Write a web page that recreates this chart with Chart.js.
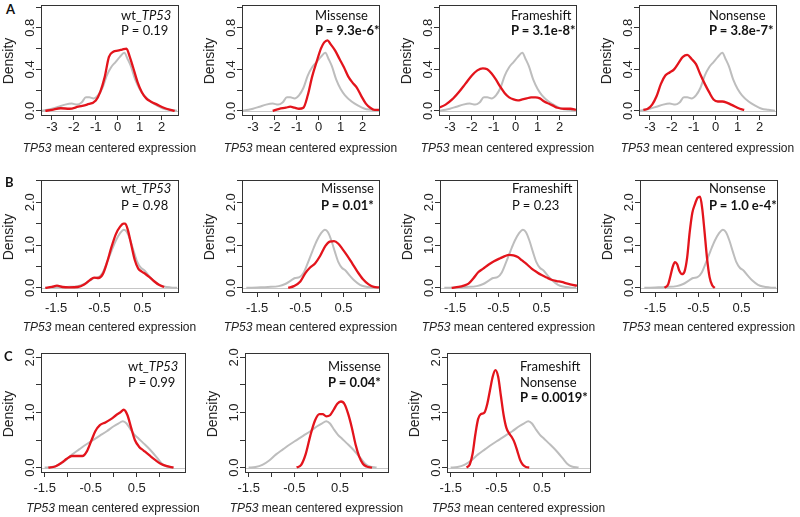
<!DOCTYPE html>
<html><head><meta charset="utf-8">
<script src="https://cdn.jsdelivr.net/npm/chart.js@4.4.1/dist/chart.umd.min.js"></script>
<style>
body{margin:0;background:#fff;}
#wrap{position:relative;width:800px;height:517px;overflow:hidden;background:#fff;}
canvas{position:absolute;}
.ann{position:absolute;font-family:Lato,"Open Sans",sans-serif;font-size:13px;color:#111;white-space:nowrap;}
.let{position:absolute;font-family:Lato,sans-serif;font-weight:bold;font-size:13px;color:#111;}
.ytitle{position:absolute;width:80px;height:16px;line-height:16px;text-align:center;font-family:"Liberation Sans",Arial,sans-serif;font-size:14px;color:#222;transform:rotate(-90deg);}
.xtitle{position:absolute;width:220px;height:16px;line-height:16px;text-align:center;font-family:"Liberation Sans",Arial,sans-serif;font-size:12px;color:#222;white-space:nowrap;}
</style></head>
<body><div id="wrap"></div>
<script>
// ---------- DATA ----------
// Row A: all samples (grey) and groups (red)
const xA_gray = [-3.5,-3.2,-3.0,-2.7,-2.4,-2.1,-1.85,-1.65,-1.45,-1.3,-1.1,-0.9,-0.7,-0.5,-0.3,-0.1,0.1,0.3,0.45,0.6,0.8,1.0,1.2,1.5,1.8,2.1,2.4,2.7];
const yA_gray = [0.0,0.01,0.02,0.04,0.06,0.07,0.06,0.08,0.13,0.13,0.12,0.15,0.22,0.34,0.42,0.47,0.52,0.56,0.5,0.43,0.3,0.21,0.15,0.09,0.05,0.02,0.01,0.0];
const xA_wt = [-3.3,-3.0,-2.6,-2.2,-1.8,-1.4,-1.0,-0.8,-0.6,-0.4,-0.2,0.0,0.2,0.4,0.55,0.7,0.9,1.1,1.3,1.5,1.8,2.1,2.4,2.6];
const yA_wt = [0.0,0.01,0.025,0.02,0.04,0.06,0.1,0.18,0.32,0.52,0.57,0.58,0.59,0.6,0.52,0.42,0.28,0.18,0.12,0.09,0.06,0.03,0.01,0.0];
const xA_mis = [-2.1,-1.8,-1.5,-1.3,-1.1,-0.9,-0.7,-0.5,-0.3,-0.1,0.1,0.25,0.4,0.55,0.75,0.95,1.15,1.35,1.55,1.75,1.95,2.15,2.35,2.55,2.75];
const yA_mis = [0.0,0.02,0.03,0.04,0.03,0.02,0.03,0.15,0.33,0.47,0.6,0.66,0.68,0.64,0.58,0.5,0.42,0.33,0.27,0.22,0.14,0.07,0.03,0.01,0.01];
const xA_fs = [-3.5,-3.2,-2.9,-2.6,-2.3,-2.0,-1.75,-1.5,-1.3,-1.1,-0.9,-0.7,-0.5,-0.3,-0.1,0.1,0.3,0.5,0.7,0.9,1.1,1.3,1.5,1.7,1.9,2.2,2.5,2.75];
const yA_fs = [0.03,0.06,0.11,0.18,0.26,0.34,0.39,0.41,0.4,0.36,0.3,0.23,0.17,0.13,0.11,0.1,0.11,0.12,0.13,0.13,0.12,0.09,0.07,0.05,0.03,0.02,0.02,0.01];
const xA_non = [-3.3,-3.1,-2.9,-2.7,-2.5,-2.3,-2.1,-1.9,-1.7,-1.5,-1.3,-1.1,-0.9,-0.7,-0.5,-0.3,-0.1,0.1,0.3,0.5,0.7,0.9,1.1,1.3];
const yA_non = [0.01,0.02,0.06,0.14,0.26,0.34,0.37,0.4,0.46,0.52,0.54,0.5,0.45,0.35,0.26,0.18,0.11,0.09,0.09,0.08,0.06,0.04,0.02,0.01];

// Row B
const xB_gray = [-1.75,-1.5,-1.25,-1.0,-0.85,-0.72,-0.62,-0.52,-0.42,-0.32,-0.22,-0.12,-0.02,0.07,0.14,0.22,0.3,0.38,0.46,0.55,0.65,0.75,0.88,1.0,1.15,1.3];
const yB_gray = [0.0,0.01,0.02,0.04,0.09,0.17,0.23,0.25,0.36,0.6,0.86,1.1,1.28,1.36,1.3,1.1,0.84,0.6,0.47,0.4,0.28,0.17,0.07,0.03,0.01,0.0];
const xB_wt = [-1.75,-1.6,-1.48,-1.35,-1.2,-1.0,-0.85,-0.72,-0.62,-0.52,-0.42,-0.32,-0.22,-0.12,-0.02,0.06,0.1,0.16,0.24,0.32,0.4,0.48,0.56,0.66,0.76,0.88,1.0];
const yB_wt = [0.0,0.02,0.05,0.02,0.01,0.02,0.08,0.18,0.24,0.23,0.32,0.6,0.95,1.25,1.43,1.5,1.5,1.35,1.0,0.65,0.45,0.38,0.33,0.25,0.16,0.07,0.02];
const xB_mis = [-0.78,-0.65,-0.5,-0.38,-0.28,-0.16,-0.04,0.08,0.18,0.28,0.38,0.48,0.58,0.7,0.82,0.95,1.08,1.2,1.32];
const yB_mis = [0.0,0.04,0.15,0.35,0.47,0.57,0.75,0.98,1.08,1.09,1.03,0.9,0.76,0.57,0.38,0.2,0.08,0.02,0.01];
const xB_fs = [-1.58,-1.42,-1.3,-1.19,-1.08,-0.96,-0.85,-0.73,-0.6,-0.46,-0.35,-0.25,-0.15,-0.05,0.05,0.15,0.27,0.4,0.5,0.62,0.73,0.85,0.96,1.1,1.32];
const yB_fs = [0.0,0.02,0.05,0.1,0.22,0.37,0.45,0.54,0.62,0.69,0.74,0.77,0.76,0.72,0.64,0.56,0.45,0.36,0.3,0.24,0.19,0.16,0.14,0.1,0.05];
const xB_non = [-1.28,-1.2,-1.14,-1.09,-1.04,-0.99,-0.94,-0.88,-0.82,-0.76,-0.7,-0.64,-0.58,-0.52,-0.46,-0.41,-0.36,-0.3,-0.24,-0.18,-0.12];
const yB_non = [0.0,0.08,0.3,0.5,0.6,0.55,0.4,0.32,0.38,0.7,1.3,1.75,1.95,2.1,2.13,1.85,1.35,0.7,0.25,0.06,0.0];

// Row C
const xC_gray = [-1.5,-1.35,-1.2,-1.05,-0.9,-0.75,-0.6,-0.45,-0.3,-0.15,0.0,0.1,0.2,0.28,0.36,0.45,0.55,0.65,0.75,0.85,0.95,1.05,1.15,1.3];
const yC_gray = [0.0,0.01,0.05,0.13,0.24,0.33,0.42,0.5,0.58,0.66,0.75,0.8,0.84,0.8,0.7,0.6,0.52,0.44,0.36,0.27,0.17,0.07,0.02,0.0];
const xC_wt = [-1.42,-1.27,-1.13,-1.02,-0.91,-0.8,-0.68,-0.58,-0.48,-0.4,-0.3,-0.18,-0.06,0.05,0.14,0.22,0.3,0.38,0.46,0.55,0.65,0.78,0.9,1.02,1.14,1.3];
const yC_wt = [0.0,0.02,0.09,0.16,0.21,0.21,0.21,0.3,0.5,0.66,0.77,0.82,0.88,0.95,1.0,1.05,0.95,0.72,0.5,0.38,0.31,0.22,0.14,0.07,0.03,0.0];
const xC_mis = [-0.45,-0.35,-0.25,-0.15,-0.05,0.05,0.12,0.2,0.28,0.36,0.44,0.52,0.6,0.68,0.76,0.84,0.92,1.0,1.08,1.2];
const yC_mis = [0.0,0.05,0.25,0.58,0.85,0.97,0.97,0.93,0.95,1.05,1.16,1.2,1.15,0.97,0.72,0.42,0.2,0.07,0.02,0.0];
const xC_fsn = [-1.15,-1.08,-1.02,-0.96,-0.9,-0.84,-0.76,-0.7,-0.64,-0.58,-0.52,-0.46,-0.4,-0.34,-0.28,-0.22,-0.16,-0.1,-0.04,0.02,0.08,0.15,0.22];
const yC_fsn = [0.0,0.06,0.25,0.6,0.88,0.97,1.0,1.15,1.4,1.65,1.77,1.65,1.3,0.95,0.72,0.62,0.55,0.45,0.3,0.14,0.05,0.01,0.0];

// Tick values and labels
const xTicksA = [-3,-2,-1,0,1,2];
const xLabelsA = [-3,-2,-1,0,1,2];
const yTicksA = [0,0.2,0.4,0.6,0.8,1.0];
const yLabelsA = [0,0.4,0.8];
const xTicksBC = [-1.5,-1,-0.5,0,0.5,1];
const xLabelsBC = [-1.5,-0.5,0.5];
const yTicksB = [0,0.5,1,1.5,2,2.5];
const yTicksC = [0,0.5,1,1.5,2];
const yLabelsBC = [0,1,2];

// Annotation texts
const annA = [['wt_<i>TP53</i>','P = 0.19'],['Missense','<b>P = 9.3e-6*</b>'],['Frameshift','<b>P = 3.1e-8*</b>'],['Nonsense','<b>P = 3.8e-7*</b>']];
const annB = [['wt_<i>TP53</i>','P = 0.98'],['Missense','<b>P = 0.01*</b>'],['Frameshift','P = 0.23'],['Nonsense','<b>P = 1.0 e-4*</b>']];
const annC = [['wt_<i>TP53</i>','P = 0.99'],['Missense','<b>P = 0.04*</b>'],['Frameshift','Nonsense','<b>P = 0.0019*</b>']];
const rowLetters = ['A','B','C'];
const xTitleHTML = '<i>TP53</i> mean centered expression';
const yTitleText = 'Density';

// ---------- LAYOUT ----------
const RED = '#e3141c', GREY = '#bdbdbd', INK = '#333';
const rows = [
  {top:5, h:110, xmin:-3.5, xmax:2.75, ymin:-0.04, ymax:1.02, xt:xTicksA, xl:xLabelsA, yt:yTicksA, yl:yLabelsA, pad:-0.5,
   gray:[xA_gray,yA_gray], lh:15, annTop:7.5, xTitleY:148, letterTop:1, letterLeft:6,
   panels:[{left:41,w:137,red:[xA_wt,yA_wt],ax:121},{left:242,w:137,red:[xA_mis,yA_mis],ax:315},
           {left:439,w:137,red:[xA_fs,yA_fs],ax:511},{left:639,w:137,red:[xA_non,yA_non],ax:709}], ann:annA},
  {top:180, h:112, xmin:-1.85, xmax:1.32, ymin:-0.097, ymax:2.52, xt:xTicksBC, xl:xLabelsBC, yt:yTicksB, yl:yLabelsBC, pad:4,
   gray:[xB_gray,yB_gray], lh:17, annTop:179.5, xTitleY:326.5, letterTop:174, letterLeft:5,
   panels:[{left:41,w:137,red:[xB_wt,yB_wt],ax:121},{left:242,w:137,red:[xB_mis,yB_mis],ax:321},
           {left:440,w:137,red:[xB_fs,yB_fs],ax:512},{left:640,w:137,red:[xB_non,yB_non],ax:709}], ann:annB},
  {top:353, h:119, xmin:-1.58, xmax:1.55, ymin:-0.08, ymax:2.08, xt:xTicksBC, xl:xLabelsBC, yt:yTicksC, yl:yLabelsBC, pad:4,
   gray:[xC_gray,yC_gray], lh:15.5, annTop:359, xTitleY:508, letterTop:348, letterLeft:4,
   panels:[{left:41,w:144,red:[xC_wt,yC_wt],ax:128},{left:245,w:143,red:[xC_mis,yC_mis],ax:328},
           {left:447,w:143,red:[xC_fsn,yC_fsn],ax:520}], ann:annC}
];

function pts(xs, ys){ return xs.map((x,i)=>({x:x, y:ys[i]})); }
function fmt1(v){ return (Math.round(v*10)/10).toFixed(1); }

const boxPlugin = {
  id:'rbox',
  beforeDatasetsDraw(chart){
    const {ctx, chartArea:a, scales:{y}} = chart;
    const y0 = Math.round(y.getPixelForValue(0)) + 0.5;
    ctx.save(); ctx.strokeStyle = '#c6c6c6'; ctx.lineWidth = 1;
    ctx.beginPath(); ctx.moveTo(a.left, y0); ctx.lineTo(a.right, y0); ctx.stroke(); ctx.restore();
  },
  afterDraw(chart){
    const {ctx, chartArea:a, scales:{y}} = chart;
    ctx.save();
    ctx.strokeStyle = INK; ctx.lineWidth = 1;
    ctx.strokeRect(Math.round(a.left)+0.5, Math.round(a.top)+0.5, Math.round(a.right-a.left), Math.round(a.bottom-a.top));
    // rotated y tick labels (R style)
    const labs = chart.options.plugins.rbox.ylabels;
    ctx.fillStyle = '#222'; ctx.font = '13px "Liberation Sans", Arial, sans-serif';
    ctx.textAlign = 'center'; ctx.textBaseline = 'middle';
    labs.forEach(v => {
      const py = y.getPixelForValue(v);
      ctx.save(); ctx.translate(a.left - 11, py); ctx.rotate(-Math.PI/2);
      ctx.fillText(fmt1(v), 0, 0); ctx.restore();
    });
    ctx.restore();
  }
};

const wrap = document.getElementById('wrap');
const PADL = 37, YW = 5, PADT = 5, PADR = 6, XH = 30;

rows.forEach((row, ri) => {
  const L = document.createElement('div'); L.className = 'let';
  L.style.left = row.letterLeft + 'px'; L.style.top = row.letterTop + 'px'; L.textContent = rowLetters[ri];
  wrap.appendChild(L);
  row.panels.forEach((p, pi) => {
    const cv = document.createElement('canvas');
    const W = p.w + PADL + YW + PADR, H = row.h + PADT + XH;
    cv.width = W; cv.height = H;
    cv.style.left = (p.left - PADL - YW) + 'px'; cv.style.top = (row.top - PADT) + 'px';
    cv.style.width = W + 'px'; cv.style.height = H + 'px';
    wrap.appendChild(cv);
    const xl = row.xl;
    new Chart(cv, {
      type:'line',
      data:{datasets:[
        {data:pts(p.red[0],p.red[1]), borderColor:RED, borderWidth:2.3, pointRadius:0, cubicInterpolationMode:'monotone', fill:false},
        {data:pts(row.gray[0],row.gray[1]), borderColor:GREY, borderWidth:2, pointRadius:0, cubicInterpolationMode:'monotone', fill:false}
      ]},
      options:{
        responsive:false, animation:false, events:[],
        layout:{padding:{left:PADL, top:PADT, right:PADR, bottom:0}},
        plugins:{legend:{display:false}, tooltip:{enabled:false}, rbox:{ylabels:row.yl}},
        scales:{
          x:{type:'linear', min:row.xmin, max:row.xmax,
             afterBuildTicks:(s)=>{ s.ticks = row.xt.map(v=>({value:v})); },
             afterFit:(s)=>{ s.height = XH; },
             ticks:{autoSkip:false, maxRotation:0, minRotation:0, padding:row.pad, color:'#222',
                    font:{family:'"Liberation Sans", Arial, sans-serif', size:13},
                    callback:(v)=> xl.some(t=>Math.abs(t-v)<1e-9) ? String(v) : ''},
             grid:{display:true, drawOnChartArea:false, drawTicks:true, tickLength:5, tickColor:INK, color:INK},
             border:{display:false}},
          y:{type:'linear', min:row.ymin, max:row.ymax,
             afterBuildTicks:(s)=>{ s.ticks = row.yt.map(v=>({value:v})); },
             afterFit:(s)=>{ s.width = YW; },
             ticks:{display:false},
             grid:{display:true, drawOnChartArea:false, drawTicks:true, tickLength:5, tickColor:INK, color:INK},
             border:{display:false}}
        }
      },
      plugins:[boxPlugin]
    });
    const A = document.createElement('div'); A.className = 'ann';
    A.style.left = p.ax + 'px'; A.style.top = row.annTop + 'px'; A.style.lineHeight = row.lh + 'px';
    A.innerHTML = row.ann[pi].join('<br>');
    wrap.appendChild(A);
    const Y = document.createElement('div'); Y.className = 'ytitle';
    Y.textContent = yTitleText;
    Y.style.left = (p.left - 33 - 40) + 'px'; Y.style.top = (row.top + row.h/2 + 1 - 8) + 'px';
    wrap.appendChild(Y);
    const X = document.createElement('div'); X.className = 'xtitle';
    X.innerHTML = xTitleHTML;
    X.style.left = (p.left + p.w/2 - 110) + 'px'; X.style.top = (row.xTitleY - 8) + 'px';
    wrap.appendChild(X);
  });
});
</script>
</body></html>
